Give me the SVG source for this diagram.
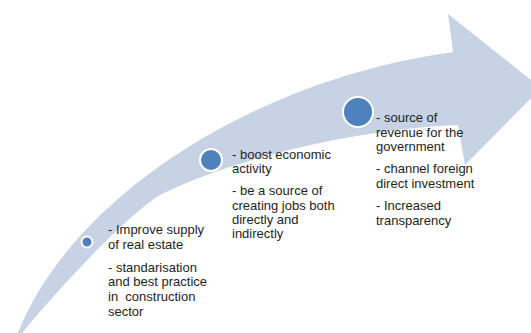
<svg xmlns="http://www.w3.org/2000/svg" width="531" height="333" viewBox="0 0 531 333">
<style>
.band{fill:#C8D2E5;}
.dot{fill:#4F81BD;stroke:#FFFFFF;stroke-width:2;}
.t{font-family:"Liberation Sans",Arial,sans-serif;font-size:13px;fill:#1E1E1E;}
</style>
<rect width="531" height="333" fill="#FFFFFF"/>
<g id="connectors">
<path class="band" d="M18,333 C70,200 250,80 453,52 L448,14 L541,88 L465,165 L458,125 C370,128 240,155 160,195 C120,220 45,305 22,333 Z"/>
</g>
<g id="node1">
<circle class="dot" cx="87" cy="242" r="5.5"/>
<text class="t" x="108" y="234">- Improve supply</text>
<text class="t" x="108" y="249">of real estate</text>
<text class="t" x="108" y="272">- standarisation</text>
<text class="t" x="108" y="286">and best practice</text>
<text class="t" x="108" y="301" xml:space="preserve">in  construction</text>
<text class="t" x="108" y="316">sector</text>
</g>
<g id="node2">
<circle class="dot" cx="211" cy="160" r="11"/>
<text class="t" x="232" y="159">- boost economic</text>
<text class="t" x="232" y="173">activity</text>
<text class="t" x="232" y="195">- be a source of</text>
<text class="t" x="232" y="210">creating jobs both</text>
<text class="t" x="232" y="224">directly and</text>
<text class="t" x="232" y="238">indirectly</text>
</g>
<g id="node3">
<circle class="dot" cx="358" cy="112" r="15"/>
<text class="t" x="376" y="122">- source of</text>
<text class="t" x="376" y="137">revenue for the</text>
<text class="t" x="376" y="151">government</text>
<text class="t" x="376" y="173">- channel foreign</text>
<text class="t" x="376" y="188">direct investment</text>
<text class="t" x="376" y="210">- Increased</text>
<text class="t" x="376" y="225">transparency</text>
</g>
</svg>
